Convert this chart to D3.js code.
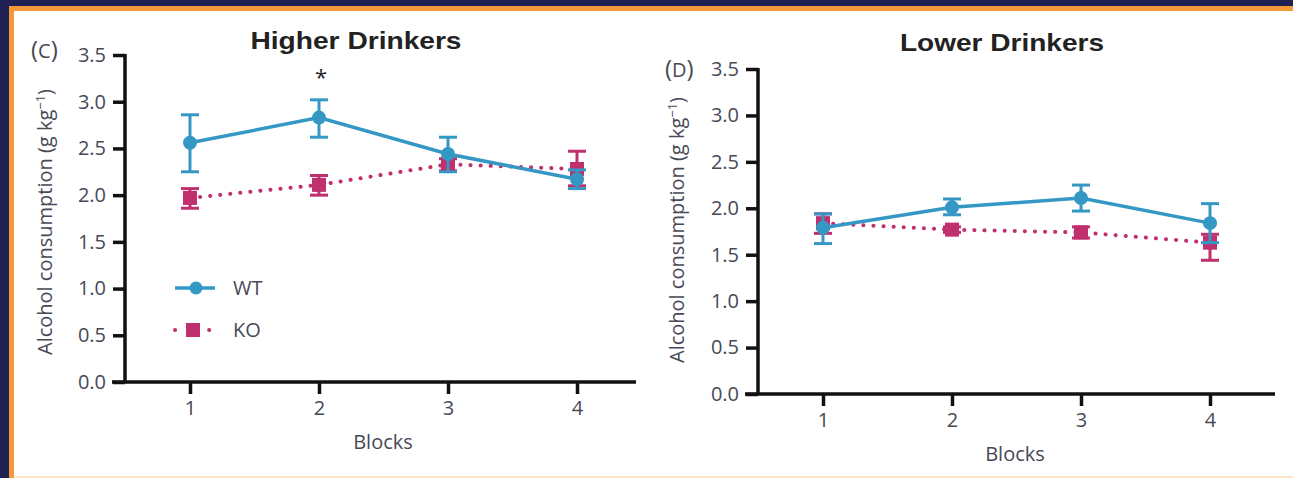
<!DOCTYPE html>
<html><head><meta charset="utf-8">
<script src="https://cdn.jsdelivr.net/npm/d3@7"></script>
<style>
html,body{margin:0;padding:0;background:#1f2152;}
svg{display:block;}
</style></head>
<body>
<svg id="chart" width="1293" height="478"></svg>
<script>
const blocks = [1, 2, 3, 4];
const yTicks = [0, 0.5, 1, 1.5, 2, 2.5, 3, 3.5];
const seriesNames = ["WT", "KO"];
// Higher drinkers
const highWT = [2.56, 2.83, 2.44, 2.17];
const highWTLo = [2.25, 2.62, 2.25, 2.07];
const highWTHi = [2.86, 3.02, 2.62, 2.27];
const highKO = [1.97, 2.11, 2.33, 2.28];
const highKOLo = [1.86, 2.00, 2.26, 2.10];
const highKOHi = [2.07, 2.21, 2.39, 2.47];
// Lower drinkers
const lowWT = [1.79, 2.01, 2.11, 1.84];
const lowWTLo = [1.62, 1.93, 1.97, 1.63];
const lowWTHi = [1.94, 2.10, 2.25, 2.05];
const lowKO = [1.84, 1.77, 1.74, 1.63];
const lowKOLo = [1.73, 1.74, 1.68, 1.44];
const lowKOHi = [1.94, 1.80, 1.80, 1.72];

const svg = d3.select("#chart");
// frame
svg.append("rect").attr("x",0).attr("y",0).attr("width",1293).attr("height",478).attr("fill","#1f2152");
svg.append("rect").attr("x",9).attr("y",6).attr("width",1284).attr("height",472).attr("fill","#f4983a");
svg.append("rect").attr("x",14).attr("y",11).attr("width",1279).attr("height",465).attr("fill","#ffffff");
svg.append("rect").attr("x",14).attr("y",476).attr("width",1279).attr("height",2).attr("fill","#fbe3c6");

const blue = "#3597c4", mag = "#c02f6e", axisCol = "#111", tickText = "#474956";
const FONT = "'Open Sans', 'Noto Sans', sans-serif";
const FS = "20px";

function panel(o) {
  const g = svg.append("g");
  const x = d3.scaleLinear().domain([1,4]).range([o.x1, o.x4]);
  const y = d3.scaleLinear().domain([0,3.5]).range([o.y0, o.y35]);
  // y axis
  const ya = g.append("g").attr("transform",`translate(${o.ax},0)`)
    .call(d3.axisLeft(y).tickValues(yTicks).tickFormat(d3.format(".1f")).tickSize(12).tickPadding(7));
  ya.select(".domain").attr("stroke",axisCol).attr("stroke-width",3.5).attr("d",`M0,${o.y35-1}V${o.y0}`);
  ya.selectAll(".tick line").attr("stroke",axisCol).attr("stroke-width",3.5);
  ya.selectAll(".tick text").attr("fill",tickText).style("font-family",FONT).style("font-size",FS);
  // x axis
  const xa = g.append("g").attr("transform",`translate(0,${o.y0})`)
    .call(d3.axisBottom(x).tickValues(blocks).tickFormat(d3.format("d")).tickSize(12).tickPadding(7));
  xa.select(".domain").attr("stroke",axisCol).attr("stroke-width",3.5).attr("d",`M${o.ax-13},0H${o.xEnd}`);
  xa.selectAll(".tick line").attr("stroke",axisCol).attr("stroke-width",3.5);
  xa.selectAll(".tick text").attr("fill",tickText).style("font-family",FONT).style("font-size",FS);
  // axis labels
  g.append("text").attr("x",o.bx).attr("y",o.y0+67).attr("text-anchor","middle")
    .attr("fill",tickText).style("font-family",FONT).style("font-size",FS).text("Blocks");
  const yl = g.append("text").attr("transform",`translate(${o.ylx},${o.ylc}) rotate(-90)`)
    .attr("text-anchor","middle").attr("fill",tickText).style("font-family",FONT).style("font-size",FS);
  yl.append("tspan").text("Alcohol consumption (g kg");
  yl.append("tspan").attr("dy",-7).style("font-size","13px").text("−1");
  yl.append("tspan").attr("dy",7).text(")");
  // panel letter
  const lt = g.append("text").attr("x",o.lx).attr("y",o.ly).attr("fill",tickText)
    .style("font-family",FONT).style("font-size","24px");
  lt.append("tspan").text("(");
  lt.append("tspan").style("font-size","20px").text(o.letter);
  lt.append("tspan").text(")");
  // title
  g.append("text").attr("x",o.tx).attr("y",o.ty).attr("text-anchor","middle").attr("fill","#222")
    .attr("textLength",o.tw).attr("lengthAdjust","spacingAndGlyphs")
    .style("font-family","'Liberation Sans', Arial, sans-serif").style("font-weight","bold").style("font-size","24px").text(o.title);

  const line = d3.line().x((d,i)=>x(blocks[i])).y(d=>y(d));
  // KO series
  g.append("path").datum(o.ko).attr("d",line).attr("fill","none").attr("stroke",mag)
    .attr("stroke-width",4).attr("stroke-dasharray","0.1 10").attr("stroke-linecap","round");
  drawErr(g, x, y, o.ko, o.koLo, o.koHi, mag);
  g.selectAll(null).data(o.ko).join("rect")
    .attr("x",(d,i)=>x(blocks[i])-7).attr("y",d=>y(d)-7).attr("width",14).attr("height",14).attr("fill",mag);
  // WT series
  g.append("path").datum(o.wt).attr("d",line).attr("fill","none").attr("stroke",blue).attr("stroke-width",3.5);
  drawErr(g, x, y, o.wt, o.wtLo, o.wtHi, blue);
  g.selectAll(null).data(o.wt).join("circle")
    .attr("cx",(d,i)=>x(blocks[i])).attr("cy",d=>y(d)).attr("r",7).attr("fill",blue);
  return {x,y,g};
}
function drawErr(g, x, y, vals, lo, hi, col) {
  vals.forEach((v,i)=>{
    const cx = x(blocks[i]);
    g.append("line").attr("x1",cx).attr("x2",cx).attr("y1",y(lo[i])).attr("y2",y(hi[i])).attr("stroke",col).attr("stroke-width",3);
    [lo[i],hi[i]].forEach(e=>{
      g.append("line").attr("x1",cx-9).attr("x2",cx+9).attr("y1",y(e)).attr("y2",y(e)).attr("stroke",col).attr("stroke-width",3);
    });
  });
}

const pC = panel({x1:190, x4:577, y0:382, y35:55, ax:125, xEnd:636, ylx:52, ylc:222, lx:31, ly:58, bx:383,
  letter:"C", title:"Higher Drinkers", tx:356, ty:49, tw:211,
  wt:highWT, wtLo:highWTLo, wtHi:highWTHi, ko:highKO, koLo:highKOLo, koHi:highKOHi});
const pD = panel({x1:823, x4:1210, y0:394, y35:69, ax:758, xEnd:1275, ylx:684, ylc:230, lx:665, ly:77, bx:1015,
  letter:"D", title:"Lower Drinkers", tx:1002, ty:51, tw:204,
  wt:lowWT, wtLo:lowWTLo, wtHi:lowWTHi, ko:lowKO, koLo:lowKOLo, koHi:lowKOHi});

// significance marker
pC.g.append("text").attr("x",pC.x(2)+2).attr("y",85).attr("text-anchor","middle").attr("fill","#222")
  .style("font-family",FONT).style("font-size","22px").text("*");

// legend
const lg = pC.g.append("g");
const legY = [288, 330];
lg.append("line").attr("x1",175).attr("x2",215).attr("y1",legY[0]).attr("y2",legY[0]).attr("stroke",blue).attr("stroke-width",3.5);
lg.append("circle").attr("cx",196).attr("cy",legY[0]).attr("r",6.5).attr("fill",blue);
lg.append("line").attr("x1",175).attr("x2",211).attr("y1",legY[1]).attr("y2",legY[1]).attr("stroke",mag)
  .attr("stroke-width",4).attr("stroke-dasharray","0.1 34").attr("stroke-linecap","round");
lg.append("rect").attr("x",186).attr("y",legY[1]-7).attr("width",14).attr("height",14).attr("fill",mag);
seriesNames.forEach((n,i)=>{
  lg.append("text").attr("x",233).attr("y",legY[i]+7).attr("fill",tickText)
    .style("font-family",FONT).style("font-size",FS).text(n);
});
</script>
</body></html>
